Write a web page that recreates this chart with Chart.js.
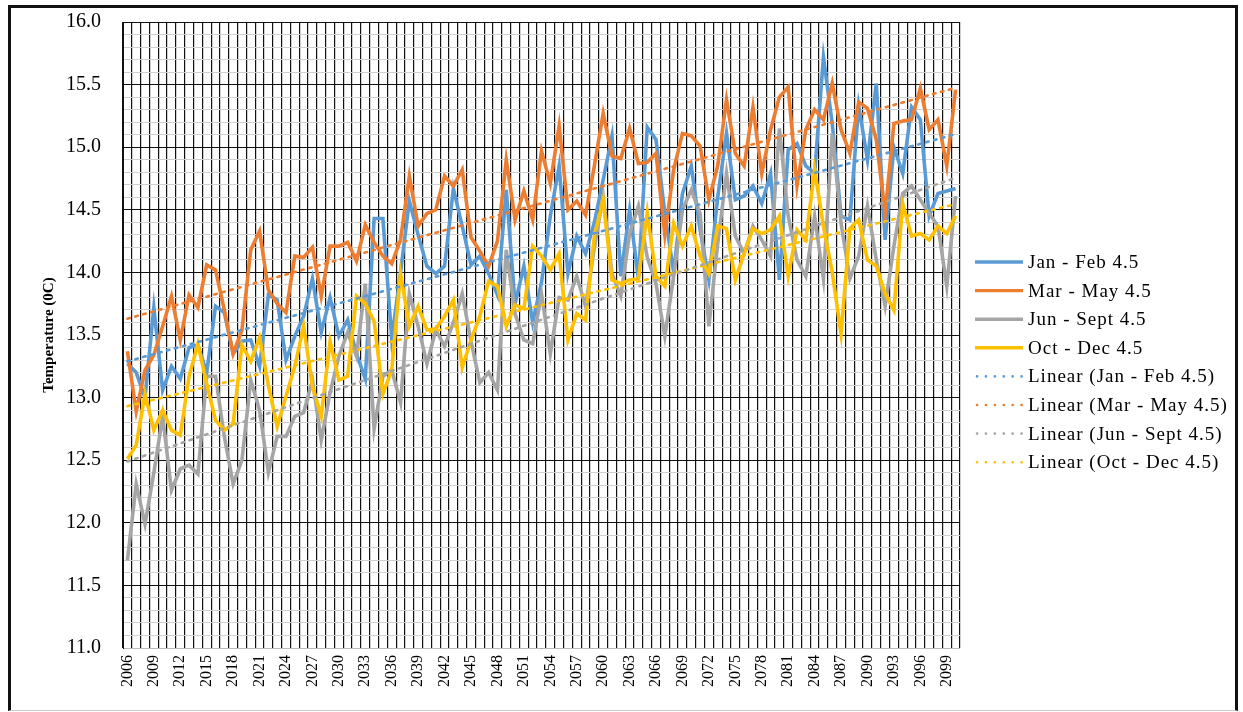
<!DOCTYPE html>
<html>
<head>
<meta charset="utf-8">
<script src="https://cdn.jsdelivr.net/npm/chart.js@4/dist/chart.umd.min.js"></script>
<style>
  html, body { margin: 0; padding: 0; background: #fff; }
  #wrap { position: relative; width: 1243px; height: 712px; overflow: hidden; }
  canvas { position: absolute; left: 0; top: 0; }
  #frame {
    position: absolute; left: 8px; top: 5px; width: 1230px; height: 706px;
    border-left: 3px solid #111; border-top: 3px solid #111; border-right: 3px solid #111;
    border-bottom: 1px solid #ccc; box-sizing: border-box; pointer-events: none;
  }
</style>
</head>
<body>
<div id="wrap">
  <canvas id="chart" width="1243" height="712"></canvas>
  <div id="frame"></div>
</div>
<script>
// Years 2006-2100, one category per year
const years = Array.from({ length: 95 }, (_, i) => String(2006 + i));

// Seasonal mean temperature (°C), RCP 4.5
const janFeb = [
  13.27, 13.20, 13.00, 13.72, 13.06, 13.25, 13.15, 13.40, 13.42, 13.20,
  13.73, 13.68, 13.35, 13.45, 13.46, 13.25, 13.82, 13.78, 13.30, 13.49,
  13.65, 13.95, 13.52, 13.80, 13.49, 13.62, 13.35, 13.15, 14.43, 14.43,
  13.47, 14.00, 14.57, 14.30, 14.05, 13.99, 14.05, 14.67, 14.37, 14.06,
  14.13, 13.99, 13.82, 14.66, 13.75, 14.05, 13.60, 13.92, 14.45, 14.85,
  13.99, 14.29, 14.15, 14.40, 14.74, 15.09, 13.97, 14.50, 13.95, 15.16,
  15.06, 14.47, 14.00, 14.63, 14.85, 14.34, 13.94, 14.60, 15.11, 14.58,
  14.61, 14.69, 14.55, 14.79, 13.94, 14.98, 15.03, 14.85, 14.79, 15.72,
  15.19, 14.45, 14.42, 15.33, 14.90, 15.51, 14.26, 15.00, 14.79, 15.32,
  15.22, 14.45, 14.63, 14.65, 14.67
];
const marMay = [
  13.37, 12.89, 13.22, 13.34, 13.57, 13.81, 13.46, 13.82, 13.72, 14.06,
  14.02, 13.70, 13.35, 13.54, 14.18, 14.33, 13.86, 13.75, 13.68, 14.13,
  14.12, 14.20, 13.81, 14.21, 14.21, 14.24, 14.09, 14.38, 14.24, 14.13,
  14.07, 14.26, 14.77, 14.37, 14.47, 14.50, 14.77, 14.69, 14.82, 14.28,
  14.17, 14.05, 14.25, 14.90, 14.42, 14.65, 14.42, 14.97, 14.71, 15.17,
  14.50, 14.57, 14.46, 14.85, 15.27, 14.93, 14.91, 15.15, 14.87, 14.88,
  14.95, 14.30, 14.82, 15.11, 15.09, 15.01, 14.58, 14.85, 15.38, 14.95,
  14.85, 15.32, 14.79, 15.14, 15.40, 15.48, 14.69, 15.14, 15.30, 15.22,
  15.51, 15.14, 14.95, 15.36, 15.31, 15.06, 14.47, 15.19, 15.21, 15.22,
  15.47, 15.14, 15.22, 14.85, 15.46
];
const junSep = [
  11.70, 12.31, 11.99, 12.40, 12.85, 12.26, 12.43, 12.46, 12.39, 13.17,
  13.17, 12.69, 12.31, 12.50, 13.14, 12.90, 12.40, 12.69, 12.69, 12.85,
  12.88, 13.14, 12.66, 13.04, 13.33, 13.52, 13.33, 13.91, 12.75, 13.17,
  13.22, 12.96, 13.83, 13.57, 13.27, 13.54, 13.41, 13.60, 13.83, 13.45,
  13.12, 13.20, 13.06, 14.18, 13.67, 13.46, 13.43, 13.83, 13.35, 13.80,
  13.78, 13.97, 13.73, 14.20, 14.61, 13.99, 13.81, 14.31, 14.53, 14.12,
  13.91, 13.49, 13.97, 14.50, 14.66, 14.47, 13.57, 14.23, 14.79, 14.29,
  14.15, 14.37, 14.26, 14.13, 15.15, 14.45, 14.10, 13.97, 14.45, 13.95,
  15.11, 14.39, 13.95, 14.13, 14.53, 14.10, 13.73, 14.21, 14.63, 14.69,
  14.58, 14.47, 14.37, 13.89, 14.61
];
const octDec = [
  12.51, 12.62, 13.03, 12.74, 12.90, 12.74, 12.70, 13.17, 13.43, 13.11,
  12.82, 12.74, 12.79, 13.42, 13.29, 13.48, 13.10, 12.77, 13.01, 13.25,
  13.57, 13.09, 12.85, 13.45, 13.14, 13.17, 13.81, 13.75, 13.61, 13.03,
  13.22, 13.99, 13.57, 13.73, 13.54, 13.55, 13.65, 13.78, 13.24, 13.46,
  13.65, 13.93, 13.89, 13.57, 13.74, 13.71, 14.21, 14.13, 14.02, 14.15,
  13.46, 13.67, 13.62, 14.29, 14.58, 13.94, 13.91, 13.94, 13.95, 14.48,
  13.97, 13.89, 14.39, 14.21, 14.37, 14.13, 13.99, 14.37, 14.35, 13.94,
  14.15, 14.35, 14.31, 14.34, 14.45, 13.97, 14.34, 14.26, 14.82, 14.37,
  14.00, 13.51, 14.35, 14.42, 14.10, 14.05, 13.83, 13.70, 14.55, 14.29,
  14.31, 14.26, 14.37, 14.31, 14.45
];

const seriesNames = ['Jan - Feb 4.5', 'Mar - May 4.5', 'Jun - Sept 4.5', 'Oct - Dec 4.5'];
const seriesColors = ['#5B9BD5', '#ED7D31', '#A5A5A5', '#FFC000'];
const seriesValues = [janFeb, marMay, junSep, octDec];

// Y-axis tick values: minor every 0.1, labelled every 0.5
const yTickValues = Array.from({ length: 51 }, (_, i) => Math.round((11 + i * 0.1) * 10) / 10);

// Least-squares straight line through a series, evaluated at every year
function linearTrend(values) {
  const n = values.length;
  let sx = 0, sy = 0, sxx = 0, sxy = 0;
  values.forEach((v, i) => { sx += i; sy += v; sxx += i * i; sxy += i * v; });
  const slope = (n * sxy - sx * sy) / (n * sxx - sx * sx);
  const icpt = (sy - slope * sx) / n;
  return values.map((_, i) => icpt + slope * i);
}

const datasets = [];
seriesValues.forEach((vals, k) => {
  datasets.push({
    label: seriesNames[k],
    data: vals,
    borderColor: seriesColors[k],
    backgroundColor: seriesColors[k],
    borderWidth: 3.6,
    pointRadius: 0,
    tension: 0,
    fill: false,
    order: 10 - k
  });
});
seriesValues.forEach((vals, k) => {
  datasets.push({
    label: 'Linear (' + seriesNames[k] + ')',
    data: linearTrend(vals),
    borderColor: seriesColors[k],
    backgroundColor: seriesColors[k],
    borderWidth: 2.6,
    borderDash: [2.6, 5.6],
    borderCapStyle: 'round',
    pointRadius: 0,
    tension: 0,
    fill: false,
    order: 1
  });
});

// Legend drawn on the right-hand side of the canvas
const sideLegend = {
  id: 'sideLegend',
  afterDraw(chart) {
    const ctx = chart.ctx;
    const x0 = 975, x1 = 1023, tx = 1028, y0 = 262, dy = 28.6;
    ctx.save();
    ctx.font = '19px "Liberation Serif", "Times New Roman", serif';
    if ('letterSpacing' in ctx) ctx.letterSpacing = '1px';
    ctx.textBaseline = 'middle';
    ctx.fillStyle = '#000';
    chart.data.datasets.forEach((ds, i) => {
      const y = y0 + i * dy;
      ctx.beginPath();
      ctx.strokeStyle = ds.borderColor;
      ctx.lineWidth = ds.borderDash ? 2.6 : 3.4;
      ctx.lineCap = ds.borderDash ? 'round' : 'butt';
      ctx.setLineDash(ds.borderDash ? [0.1, 8.8] : []);
      ctx.moveTo(ds.borderDash ? x0 + 2 : x0, y);
      ctx.lineTo(x1, y);
      ctx.stroke();
      ctx.setLineDash([]);
      ctx.fillText(ds.label, tx, y + 1);
    });
    ctx.restore();
  }
};

new Chart(document.getElementById('chart'), {
  type: 'line',
  data: { labels: years, datasets },
  plugins: [sideLegend],
  options: {
    responsive: false,
    animation: false,
    layout: { padding: { left: 36, right: 283, top: 22, bottom: 0 } },
    plugins: { legend: { display: false }, tooltip: { enabled: false }, title: { display: false } },
    scales: {
      x: {
        type: 'category',
        offset: true,
        grid: { offset: true, color: '#111', lineWidth: 1.2, drawTicks: false },
        border: { display: true, color: '#bbb', width: 1 },
        ticks: {
          autoSkip: false,
          minRotation: 90,
          maxRotation: 90,
          padding: 7,
          color: '#000',
          font: { family: '"Liberation Serif", "Times New Roman", serif', size: 16 },
          callback: (val, idx) => (idx % 3 === 0 ? years[idx] : '')
        },
        afterFit: (s) => { s.height = 64; }
      },
      y: {
        min: 11,
        max: 16,
        afterBuildTicks: (s) => { s.ticks = yTickValues.map(v => ({ value: v })); },
        grid: {
          color: (c) => {
            const v = c.tick ? c.tick.value : 0;
            return Math.abs(v * 2 - Math.round(v * 2)) < 1e-6 ? '#111' : '#cfcfcf';
          },
          lineWidth: 1,
          drawTicks: true,
          tickLength: 13,
          tickColor: 'rgba(0,0,0,0)'
        },
        border: { display: true, color: '#111', width: 1 },
        ticks: {
          autoSkip: false,
          padding: 9,
          color: '#000',
          font: { family: '"Liberation Serif", "Times New Roman", serif', size: 20 },
          callback: (v) => (Math.abs(v * 2 - Math.round(v * 2)) < 1e-6 ? Number(v).toFixed(1) : '')
        },
        title: {
          display: true,
          text: 'Temperature (0C)',
          color: '#000',
          font: { family: '"Liberation Serif", "Times New Roman", serif', size: 15, weight: 'bold' },
          padding: { top: 4, bottom: 4 }
        },
        afterFit: (s) => { s.width = 87; }
      }
    }
  }
});
</script>
</body>
</html>
